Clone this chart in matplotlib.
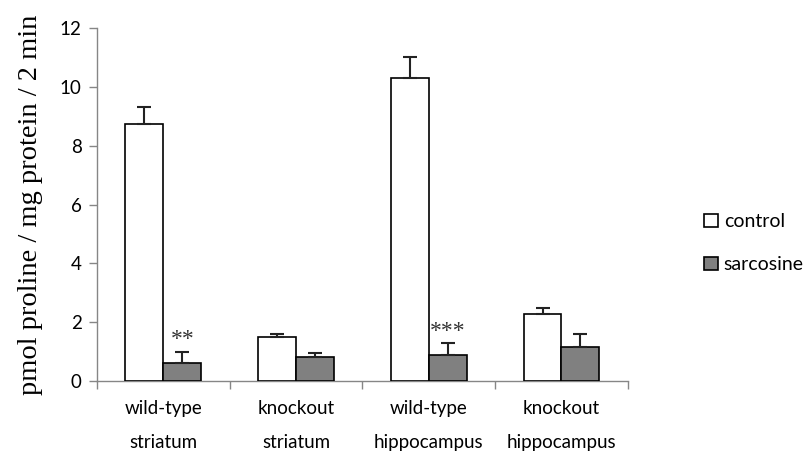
import numpy as np
import matplotlib.pyplot as plt

groups = ["wild-type\nstriatum", "knockout\nstriatum", "wild-type\nhippocampus", "knockout\nhippocampus"]
control = [8.75, 1.48, 10.3, 2.28]
control_err = [0.57, 0.12, 0.72, 0.2]
sarcosine = [0.61, 0.82, 0.88, 1.14]
sarcosine_err = [0.38, 0.14, 0.4, 0.44]
stars = ["**", "", "***", ""]

axis_grey = "#868686"
label_font = ["Lato", "DejaVu Sans"]

fig = plt.figure(figsize=(8.08, 4.55), dpi=100)
ax = fig.add_axes([0.12, 0.163, 0.657, 0.775])

x = np.arange(len(groups))
w = 0.285
err_kw = dict(ecolor="#222222", elinewidth=1.5, capsize=5, capthick=1.5)
ax.bar(x - w / 2, control, w, color="white", edgecolor="black", linewidth=1.2,
       yerr=[np.zeros(len(control)), control_err], error_kw=err_kw, label="control", zorder=3)
ax.bar(x + w / 2, sarcosine, w, color="#808080", edgecolor="black", linewidth=1.2,
       yerr=[np.zeros(len(sarcosine)), sarcosine_err], error_kw=err_kw, label="sarcosine", zorder=3)

for i, s in enumerate(stars):
    if s:
        ax.text(x[i] + w / 2, sarcosine[i] + sarcosine_err[i] + 0.05, s, ha="center", va="bottom",
                family="Liberation Serif", fontsize=17, color="#333333")

ax.set_xlim(-0.5, len(groups) - 0.5)
ax.set_ylim(0, 12)
ax.set_yticks(np.arange(0, 13, 2))
ax.set_xticks(np.arange(len(groups) + 1) - 0.5, minor=False)
ax.set_xticklabels([])
ax.set_xticks(x, minor=True)
ax.set_xticklabels(groups, minor=True, family=label_font, fontsize=13.5, linespacing=2.2)
ax.tick_params(axis="x", which="minor", length=0, pad=14)
ax.tick_params(axis="x", which="major", length=6, color=axis_grey, width=1)
ax.tick_params(axis="y", length=6, color=axis_grey, width=1, pad=5)
for t in ax.get_yticklabels():
    t.set_family(label_font)
    t.set_fontsize(13.5)

for side in ["top", "right"]:
    ax.spines[side].set_visible(False)
for side in ["left", "bottom"]:
    ax.spines[side].set_color(axis_grey)
    ax.spines[side].set_linewidth(1)

ax.set_ylabel("pmol proline / mg protein / 2 min", family="Liberation Serif", fontsize=20.5, labelpad=12)

leg = fig.legend(loc="upper left", bbox_to_anchor=(0.85, 0.57), frameon=False,
                 prop={"family": label_font, "size": 14}, handlelength=0.7, handleheight=0.7,
                 handletextpad=0.3, labelspacing=1.35)

fig.savefig("out.png", dpi=100)
